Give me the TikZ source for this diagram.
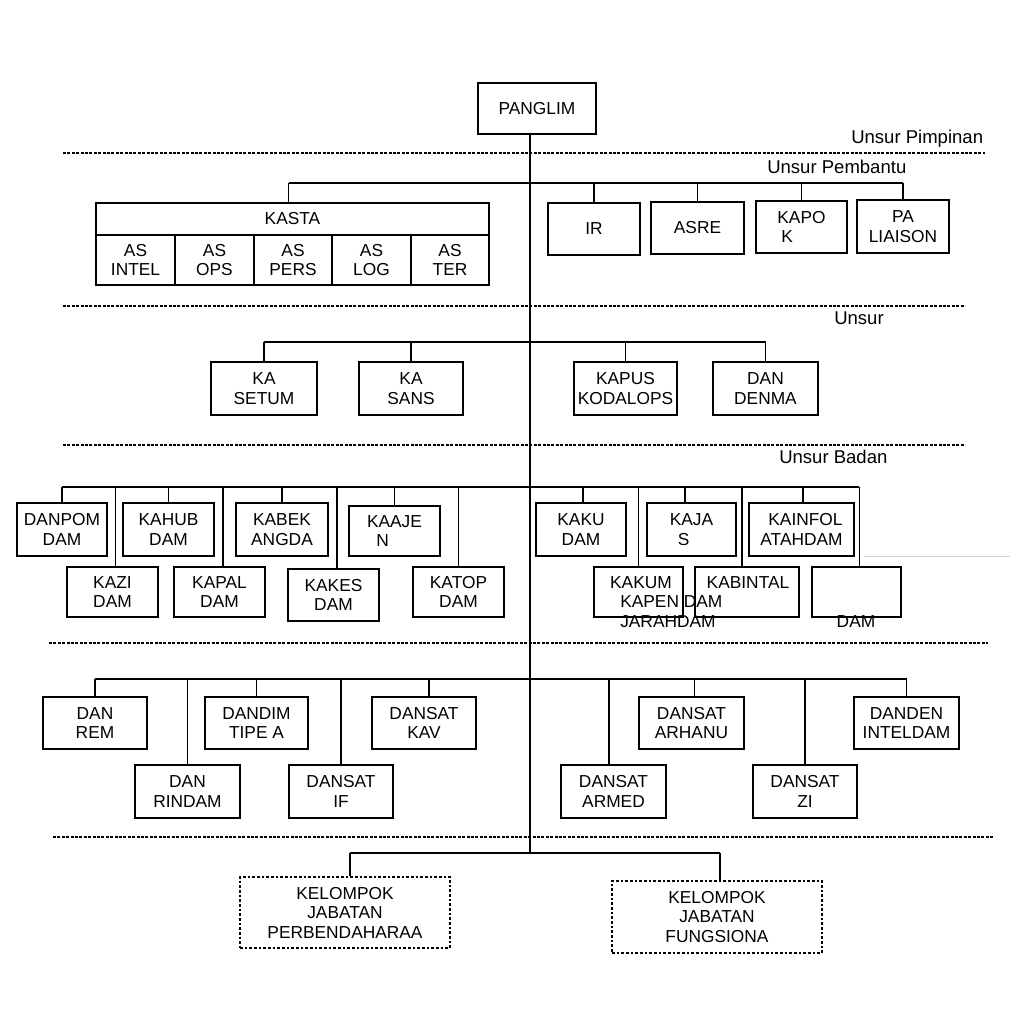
\documentclass[tikz,border=0pt]{standalone}
\usepackage{fontspec}
\setmainfont{Liberation Sans}
\newcommand{\bxfont}{\fontsize{13}{14.6}\selectfont}
\newcommand{\lblfont}{\fontsize{13.9}{16}\selectfont}
\tikzset{
  box/.style={draw, line width=1pt, inner sep=0pt, align=center, font=\bxfont},
  dbox/.style={draw, line width=0.8pt, dash pattern=on 2pt off 1.5pt},
  conn/.style={line width=1pt},
  sepline/.style={line width=0.9pt, dash pattern=on 2.2pt off 1.1pt},
  lbl/.style={font=\lblfont, inner sep=0pt, anchor=base west},
  txt/.style={font=\bxfont, inner sep=0pt}
}
\newcommand{\obox}[7][]{\node[box,minimum width={(#5-#3)*0.75pt},minimum height={(#6-#4)*0.75pt},#1] (#2) at ({(#3+#5)/2},{(#4+#6)/2}) {#7};}
\begin{document}
\begin{tikzpicture}[x=0.75pt,y=-0.75pt]
\path[use as bounding box, fill=white] (0,0) rectangle (1026,1020);

% separators
\draw[sepline] (63,153) -- (985,153);
\draw[sepline] (63,306) -- (965,306);
\draw[sepline] (63,445) -- (965,445);
\draw[sepline] (49,643) -- (988,643);
\draw[sepline] (53,837) -- (993,837);

% labels
\node[lbl] (lpimp) at (851,144) {Unsur Pimpinan};
\node[lbl] (lpemb) at (767,174) {Unsur Pembantu};
\node[lbl] (luns) at (834,325) {Unsur};
\node[lbl] (lbad) at (779,463) {Unsur Badan};

% bus levels
\coordinate (b1) at (0,183);
\coordinate (b2) at (0,342);
\coordinate (b3) at (0,487);
\coordinate (b4) at (0,679);
\coordinate (b5) at (0,853);
\coordinate (spine) at (530,853);

% top
\obox{panglim}{478}{83}{596}{134}{PANGLIM}
\draw[conn] (panglim.south -| spine) -- (spine);

% Unsur Pembantu
\obox{kasta}{96}{203}{489}{235}{KASTA}
\obox{asintel}{96}{235}{175}{285}{AS\\INTEL}
\obox{asops}{175}{235}{254}{285}{AS\\OPS}
\obox{aspers}{254}{235}{332}{285}{AS\\PERS}
\obox{aslog}{332}{235}{411}{285}{AS\\LOG}
\obox{aster}{411}{235}{489}{285}{AS\\TER}
\obox{ir}{548}{203}{640}{255}{IR}
\obox{asre}{651}{202}{744}{254}{ASRE}
\obox[align=left]{kapok}{756}{201}{847}{253}{KAPO\\\hspace*{3pt}K}
\obox{pa}{857}{200}{949}{253}{PA\\LIAISON}
\draw[conn] ([xshift=-3pt]kasta.north |- b1) -- (pa.north |- b1);
\draw[conn] ([xshift=-3pt]kasta.north) -- ([xshift=-3pt]kasta.north |- b1);
\foreach \n in {ir,asre,kapok,pa} \draw[conn] (\n.north) -- (\n.north |- b1);

% Unsur
\obox{setum}{211}{362}{317}{415}{KA\\SETUM}
\obox{sans}{359}{362}{463}{415}{KA\\SANS}
\obox{kapus}{574}{362}{677}{415}{KAPUS\\KODALOPS}
\obox{denma}{713}{362}{818}{415}{DAN\\DENMA}
\draw[conn] (setum.north |- b2) -- (denma.north |- b2);
\foreach \n in {setum,sans,kapus,denma} \draw[conn] (\n.north) -- (\n.north |- b2);

% Unsur Badan
\obox{danpom}{17}{503}{107}{556}{DANPOM\\DAM}
\obox{kahub}{123}{503}{214}{556}{KAHUB\\DAM}
\obox{kabek}{236}{503}{328}{556}{KABEK\\ANGDA}
\obox[align=left]{kaajen}{349}{506}{440}{556}{KAAJE\\\hspace*{7pt}N}
\obox{kaku}{536}{503}{626}{556}{KAKU\\DAM}
\obox[align=left]{kaja}{647}{503}{736}{556}{KAJA\\\hspace*{6pt}S}
\obox[align=right]{kainfol}{749}{503}{854}{556}{KAINFOL\\ATAHDAM}
\obox{kazi}{67}{567}{158}{617}{KAZI\\DAM}
\obox{kapal}{174}{567}{265}{617}{KAPAL\\DAM}
\obox{kakes}{288}{569}{379}{621}{KAKES\\DAM}
\obox{katop}{413}{567}{504}{617}{KATOP\\DAM}
\obox{kakum}{594}{567}{683}{617}{}
\obox{kabintal}{695}{567}{799}{617}{}
\obox{kosong}{812}{567}{901}{617}{}
\node[txt] (tkakum) at (641,583) {KAKUM};
\node[txt, anchor=west] (tkapen) at (620,602) {KAPEN DAM};
\node[txt, anchor=west] (tjarah) at (620,622) {JARAHDAM};
\node[txt] (tkabintal) at (748,583) {KABINTAL};
\node[txt] (tdam) at (856,622) {DAM};
\draw[gray!35, line width=0.6pt] (864,556) -- (1010,556);

\draw[conn] (danpom.north |- b3) -- ([xshift=2pt]kosong.north |- b3);
\foreach \n/\s in {danpom/0,kahub/0,kabek/0,kaajen/0,kaku/1.5,kaja/-5,kainfol/1,
                   kazi/2,kapal/2.6,kakes/2.6,katop/0,kakum/0,kabintal/-3.7,kosong/2}
  \draw[conn] ([xshift=\s pt]\n.north) -- ([xshift=\s pt]\n.north |- b3);

% level 4
\obox{danrem}{43}{697}{147}{749}{DAN\\REM}
\obox{rindam}{135}{765}{240}{818}{DAN\\RINDAM}
\obox{dandim}{205}{697}{308}{749}{DANDIM\\TIPE A}
\obox{dansatif}{289}{765}{393}{818}{DANSAT\\IF}
\obox{kav}{372}{697}{476}{749}{DANSAT\\KAV}
\obox{armed}{561}{765}{666}{818}{DANSAT\\ARMED}
\obox{arhanu}{639}{697}{744}{749}{DANSAT\\ARHANU}
\obox{zi}{753}{765}{857}{818}{DANSAT\\ZI}
\obox{danden}{854}{697}{959}{749}{DANDEN\\INTELDAM}
\draw[conn] (danrem.north |- b4) -- (danden.north |- b4);
\foreach \n/\s in {danrem/0,rindam/0,dandim/0,dansatif/0,kav/3.7,armed/-3.4,arhanu/2,zi/0,danden/0}
  \draw[conn] ([xshift=\s pt]\n.north) -- ([xshift=\s pt]\n.north |- b4);

% bottom
\obox[dbox]{kel1}{240}{877}{450}{948}{KELOMPOK\\JABATAN\\PERBENDAHARAA}
\obox[dbox]{kel2}{612}{881}{822}{953}{KELOMPOK\\JABATAN\\FUNGSIONA}
\draw[conn] ([xshift=3.7pt]kel1.north |- b5) -- ([xshift=2.2pt]kel2.north |- b5);
\draw[conn] ([xshift=3.7pt]kel1.north) -- ([xshift=3.7pt]kel1.north |- b5);
\draw[conn] ([xshift=2.2pt]kel2.north) -- ([xshift=2.2pt]kel2.north |- b5);
\end{tikzpicture}
\end{document}
